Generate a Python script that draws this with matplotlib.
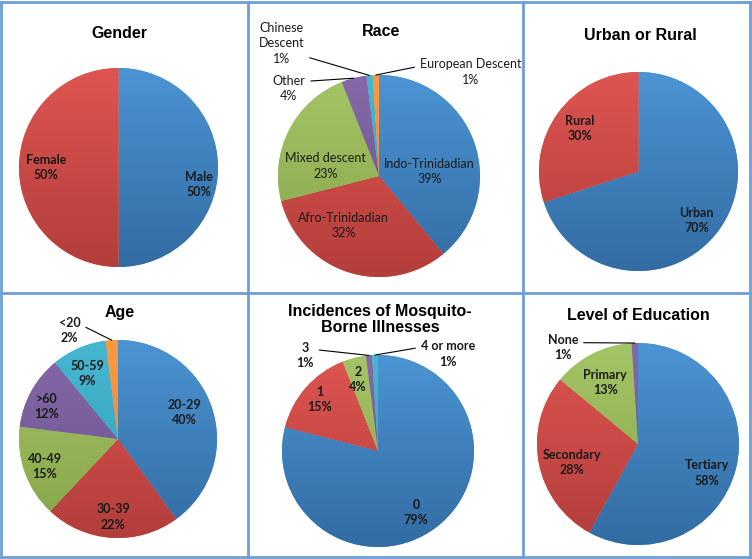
import matplotlib
matplotlib.use('Agg')
import matplotlib.pyplot as plt
import numpy as np
from matplotlib.lines import Line2D
from matplotlib.colors import to_rgb

W, H, DPI = 752, 559, 100

# ---------------- data ----------------
gender_labels = ['Male', 'Female']
gender_values = [50, 50]

race_labels = ['Indo-Trinidadian', 'Afro-Trinidadian', 'Mixed descent', 'Other',
               'Chinese\nDescent', 'European Descent']
race_values = [39, 32, 23, 4, 1, 1]

area_labels = ['Urban', 'Rural']
area_values = [70, 30]

age_labels = ['20-29', '30-39', '40-49', '>60', '50-59', '<20']
age_values = [40, 22, 15, 12, 9, 2]

mosq_labels = ['0', '1', '2', '3', '4 or more']
mosq_values = [79, 15, 4, 1, 1]

edu_labels = ['Tertiary', 'Secondary', 'Primary', 'None']
edu_values = [58, 28, 13, 1]

titles = ['Gender', 'Race', 'Urban or Rural', 'Age',
          'Incidences of Mosquito-\nBorne Illnesses', 'Level of Education']

# ---------------- style ----------------
GRAD = [('#4b94d3', '#336ca3'),   # blue
        ('#de5551', '#b33e3b'),   # red
        ('#a4c566', '#86a449'),   # green
        ('#8669a8', '#6a528e'),   # purple
        ('#47b7d1', '#2f9db6'),   # cyan
        ('#f99a42', '#e8822e')]   # orange

LABEL_FONT = ['Lato', 'DejaVu Sans']
TITLE_FONT = ['Liberation Sans', 'DejaVu Sans']
TXT = '#1a1a1a'
LS = 1.32

charts = [
    dict(labels=gender_labels, values=gender_values, title=titles[0],
         tpos=(119, 33), center=(118.5, 167.5), r=99.5, bold=True,
         inside={0: (0.83, -12), 1: (0.73, 0)}, outside={}),
    dict(labels=race_labels, values=race_values, title=titles[1],
         tpos=(381, 31), center=(379, 176), r=101, bold=False,
         inside={0: (0.50, -15), 1: (0.60, -17.5), 2: (0.54, 16.5)},
         outside={3: (-65, 10, (1.0, 0.75)),
                  4: (-88, -32, (1.0, 0.2)),
                  5: (95, -3, (0.0, 0.72))}),
    dict(labels=area_labels, values=area_values, title=titles[2],
         tpos=(640, 35), center=(638.5, 171.5), r=99.5, bold=True,
         inside={0: (0.76, -4), 1: (0.73, 0)}, outside={}),
    dict(labels=age_labels, values=age_values, title=titles[3],
         tpos=(120, 313), center=(118, 439), r=99, bold=True,
         inside={0: (0.72, 4), 1: (0.79, 0), 2: (0.79, 1), 3: (0.79, 4.5), 4: (0.73, 2)},
         outside={5: (-42, -10, (1.0, 0.7))}),
    dict(labels=mosq_labels, values=mosq_values, title=titles[4],
         tpos=(380, 319.5), center=(378, 451), r=96, bold=True,
         inside={0: (0.75, -6), 1: (0.81, 0), 2: (0.77, 1.3)},
         outside={3: (-64, 0, (1.0, 0.72)),
                  4: (73, -1, (0.0, 0.75))}),
    dict(labels=edu_labels, values=edu_values, title=titles[5],
         tpos=(638, 316), center=(638, 444), r=101, bold=True,
         inside={0: (0.74, -8.4), 1: (0.68, 4.5), 2: (0.69, 1)},
         outside={3: (-72, 4.5, (1.0, 0.68))}),
]

fig = plt.figure(figsize=(W / DPI, H / DPI), dpi=DPI)
fig.patch.set_facecolor('white')

t = np.linspace(0, 1, 256)[:, None, None]


def grad_fill(ax, wedge, top, bot):
    a = np.array(to_rgb(top))[None, None, :]
    b = np.array(to_rgb(bot))[None, None, :]
    img = a * (1 - t) + b * t
    im = ax.imshow(img, extent=(-1, 1, -1, 1), origin='upper', aspect='auto',
                   interpolation='bilinear', zorder=wedge.get_zorder() + 0.1)
    im.set_clip_path(wedge)


for ch in charts:
    cx, cy = ch['center']
    r = ch['r']
    ax = fig.add_axes([(cx - r) / W, 1 - (cy + r) / H, 2 * r / W, 2 * r / H])
    n = len(ch['values'])
    cols = [GRAD[i][0] for i in range(n)]
    wedges, _ = ax.pie(ch['values'], colors=cols, startangle=90, counterclock=False,
                       radius=1, wedgeprops=dict(linewidth=0))
    for i, w in enumerate(wedges):
        w.set_facecolor(GRAD[i][0])
        w.set_edgecolor('none')
        grad_fill(ax, w, *GRAD[i])
    ax.set_xlim(-1, 1)
    ax.set_ylim(-1, 1)
    ax.axis('off')
    weight = 'bold' if ch['bold'] else 'normal'
    total = float(sum(ch['values']))
    for i, w in enumerate(wedges):
        pct = '%d%%' % round(100 * ch['values'][i] / total)
        txt = ch['labels'][i] + '\n' + pct
        mid = 0.5 * (w.theta1 + w.theta2)
        if i in ch['inside']:
            d, shift = ch['inside'][i]
            th = np.deg2rad(mid + shift)
            ax.text(d * np.cos(th), d * np.sin(th), txt, ha='center', va='center',
                    multialignment='center', fontsize=9, fontweight=weight,
                    family=LABEL_FONT, color=TXT, linespacing=LS, zorder=5)
        elif i in ch['outside']:
            dx, dy, rp = ch['outside'][i]
            th = np.deg2rad(mid)
            ax.annotate(txt, xy=(np.cos(th), np.sin(th)), xytext=(dx, -dy),
                        textcoords='offset pixels', ha='center', va='center',
                        multialignment='center', fontsize=9, fontweight=weight,
                        family=LABEL_FONT, color=TXT, linespacing=LS,
                        annotation_clip=False, zorder=5,
                        arrowprops=dict(arrowstyle='-', color='black', lw=0.8,
                                        shrinkA=2, shrinkB=0, relpos=rp))
    tx, ty = ch['tpos']
    fig.text(tx / W, 1 - ty / H, ch['title'], ha='center', va='center',
             fontsize=11.5, fontweight='bold', family=TITLE_FONT, color='black',
             linespacing=1.05)

# panel borders
BC = '#6c9fd5'
for x in [1.5, 248, 523, 750]:
    fig.add_artist(Line2D([x / W, x / W], [1 - 1.5 / H, 1 - 557 / H],
                          transform=fig.transFigure, color=BC, lw=2.0))
for y in [1.5, 293, 557]:
    fig.add_artist(Line2D([1.5 / W, 750 / W], [1 - y / H, 1 - y / H],
                          transform=fig.transFigure, color=BC, lw=2.0))

fig.savefig('out.png', dpi=DPI, facecolor='white')
